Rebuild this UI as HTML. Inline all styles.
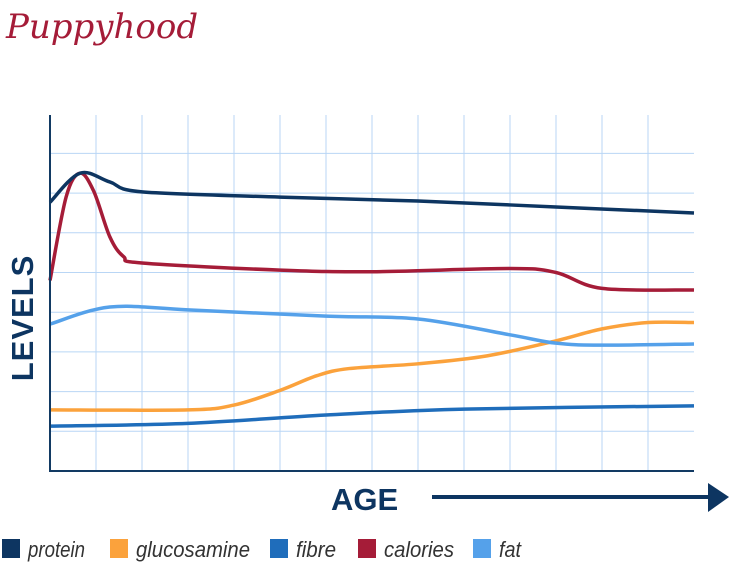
<!DOCTYPE html>
<html><head><meta charset="utf-8"><style>
body{margin:0;background:#fff;width:731px;height:566px;overflow:hidden}
svg{display:block}
</style></head><body>
<svg id="chart" width="731" height="566" xmlns="http://www.w3.org/2000/svg">
<text x="6" y="38" font-family="'DejaVu Serif','Liberation Serif',serif" font-style="italic" font-size="34" fill="#a51c38">Puppyhood</text>
<g id="grid"></g>
<g id="series"></g>
<line x1="50" y1="115" x2="50" y2="472" stroke="#123a63" stroke-width="2"/>
<line x1="49" y1="471" x2="694" y2="471" stroke="#123a63" stroke-width="2"/>
<text transform="translate(33,318) rotate(-90)" text-anchor="middle" font-family="'Liberation Sans',sans-serif" font-weight="bold" font-size="31" fill="#0d3561" letter-spacing="1">LEVELS</text>
<text x="331" y="510" font-family="'Liberation Sans',sans-serif" font-weight="bold" font-size="31" fill="#0d3561">AGE</text>
<line x1="432" y1="497" x2="712" y2="497" stroke="#0d3561" stroke-width="4"/>
<polygon points="708,483 729,497 708,512" fill="#0d3561"/>
<g id="legend"></g>
</svg>
<script>
const xs = [0,1,2,3,4,5,6,7,8,9,10,11,12,13];
const proteinX = [0,0.65,1.3,2,5,8,11,14];
const proteinY = [6.77,7.5,7.28,7.03,6.9,6.8,6.65,6.5];
const caloriesX = [0,0.35,0.65,0.95,1.3,1.6,2,5,7,10,11,12,14];
const caloriesY = [4.8,6.9,7.5,7.05,5.9,5.4,5.24,5.06,5.02,5.1,5.0,4.6,4.56];
const fatX = [0,1.3,3,6,8,10,11,12,14];
const fatY = [3.7,4.13,4.06,3.9,3.83,3.43,3.22,3.17,3.2];
const glucX = [0,3,4,5,5.8,6.5,8,9.5,11,12,13,14];
const glucY = [1.54,1.54,1.66,2.03,2.4,2.58,2.7,2.9,3.28,3.58,3.74,3.74];
const fibreX = [0,3,6,9,14];
const fibreY = [1.13,1.2,1.41,1.56,1.64];
const yTicks = [1,2,3,4,5,6,7,8];
const legendNames = ["protein","glucosamine","fibre","calories","fat"];
const legendColors = ["#0d3561","#fba23c","#1f6dbb","#a51c38","#55a1ea"];

const sx = v => 50 + v*46;
const sy = v => 471 - v*39.7;
const NS = "http://www.w3.org/2000/svg";
const grid = document.getElementById('grid');
xs.slice(1).forEach(v=>{
  const l=document.createElementNS(NS,'line');
  
  
  l.setAttribute('x1',sx(v));l.setAttribute('x2',sx(v));l.setAttribute('y1',115);l.setAttribute('y2',471);
  l.setAttribute('stroke','#b9d6f5');l.setAttribute('stroke-width','1');
  grid.appendChild(l);
});
yTicks.forEach(v=>{
  const l=document.createElementNS(NS,'line');
  
  
  l.setAttribute('x1',50);l.setAttribute('x2',694);l.setAttribute('y1',sy(v));l.setAttribute('y2',sy(v));
  l.setAttribute('stroke','#b9d6f5');l.setAttribute('stroke-width','1');
  grid.appendChild(l);
});
function path(X,Y){
  const p=X.map((x,i)=>[sx(x),sy(Y[i])]);
  let d=`M${p[0][0]},${p[0][1]}`;
  for(let i=0;i<p.length-1;i++){
    const p0=p[i-1]||p[i],p1=p[i],p2=p[i+1],p3=p[i+2]||p2;
    const c1=[p1[0]+(p2[0]-p0[0])/6,p1[1]+(p2[1]-p0[1])/6];
    const c2=[p2[0]-(p3[0]-p1[0])/6,p2[1]-(p3[1]-p1[1])/6];
    d+=` C${c1[0]},${c1[1]} ${c2[0]},${c2[1]} ${p2[0]},${p2[1]}`;
  }
  return d;
}
const ser=document.getElementById('series');
[["fibre",fibreX,fibreY,"#1f6dbb"],["glucosamine",glucX,glucY,"#fba23c"],["fat",fatX,fatY,"#55a1ea"],["calories",caloriesX,caloriesY,"#a51c38"],["protein",proteinX,proteinY,"#0d3561"]].forEach(s=>{
  const e=document.createElementNS(NS,'path');
  
  
  e.setAttribute('d',path(s[1],s[2]));
  e.setAttribute('fill','none');e.setAttribute('stroke',s[3]);e.setAttribute('stroke-width','3.5');
  e.setAttribute('stroke-linejoin','round');
  ser.appendChild(e);
});
const lg=document.getElementById('legend');
const lx=[2,110,270,358,473];
const lw=[57,114,40,70,22];
legendNames.forEach((n,i)=>{
  const r=document.createElementNS(NS,'rect');
  
  
  r.setAttribute('x',lx[i]);r.setAttribute('y',539);r.setAttribute('width',18);r.setAttribute('height',19);
  r.setAttribute('fill',legendColors[i]);
  lg.appendChild(r);
  const t=document.createElementNS(NS,'text');
  
  
  t.setAttribute('x',lx[i]+26);t.setAttribute('y',557);
  t.setAttribute('font-family',"'Liberation Sans',sans-serif");
  t.setAttribute('font-style','italic');t.setAttribute('font-size','22');t.setAttribute('fill','#333');
  t.setAttribute('textLength',lw[i]);t.setAttribute('lengthAdjust','spacingAndGlyphs');
  t.textContent=n;
  lg.appendChild(t);
});
</script>
</body></html>
